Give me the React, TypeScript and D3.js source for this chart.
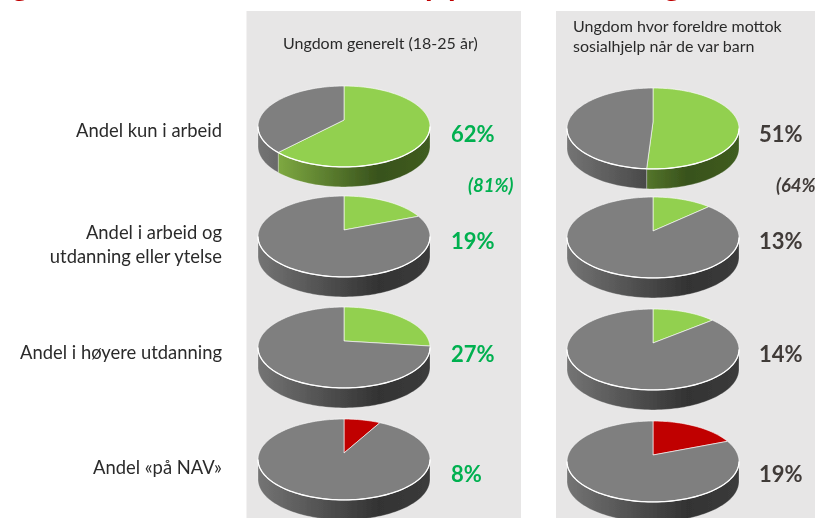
import React from "react";
import * as d3 from "d3";

const width = 815;
const height = 518;

// values
const rowLabels = [
  ["Andel kun i arbeid"],
  ["Andel i arbeid og", "utdanning eller ytelse"],
  ["Andel i høyere utdanning"],
  ["Andel «på NAV»"],
];
const generalValues = [62, 19, 27, 8];
const welfareValues = [51, 13, 14, 19];
const generalHeader = ["Ungdom generelt (18-25 år)"];
const welfareHeader = ["Ungdom hvor foreldre mottok", "sosialhjelp når de var barn"];
const generalSum = "(81%)";
const welfareSum = "(64%)";
const titleFragments = ["g", "p", "p", "g"];

// layout
const labelRight = 222;
const labelBaselines = [[137], [239, 263], [359], [474]];
const titleX = [12, 425, 448, 664];
const pieTopsLeft = [86, 196, 307, 419];
const pieTopsRight = [88, 197, 309, 421];
const valueBaselines = [142, 249, 362, 482];

// the slides' fake 3D pie is a perspective view of a disc
const persp = 0.16;
const rx = 84.9;
const ry = 39.4;
const apexOffset = 34;
const depth = 20;
const seam = Math.acos(-persp);

const GRAY = "#7f7f7f";
const GREEN = "#92d050";
const RED = "#c00000";
const TEXT = "#2b2b2b";

const pie = d3
  .pie<number>()
  .sort(null)
  .value((d) => d);

function rim(a: number): [number, number] {
  const u = Math.sin(a);
  const v = Math.cos(a);
  const w = 1 + persp * v;
  return [(rx * u) / w, (-ry * v) / w];
}

const line = d3.line();

function arcPoints(a0: number, a1: number): [number, number][] {
  const n = Math.max(2, Math.ceil((a1 - a0) * 30));
  return d3.range(n + 1).map((i) => rim(a0 + ((a1 - a0) * i) / n));
}

const Pie3D = ({ cx, top, value, color, id }: { cx: number; top: number; value: number; color: string; id: string }) => {
  const cy = top + apexOffset;
  const slices = pie([value, 100 - value]);
  const fills = [color, GRAY];
  const sideFills = [color === RED ? `url(#${id}-r)` : `url(#${id}-g)`, `url(#${id}-k)`];

  return (
    <g transform={`translate(${cx},${cy})`}>
      <defs>
        <linearGradient id={`${id}-k`} gradientUnits="userSpaceOnUse" x1={-86} x2={86} y1={0} y2={0}>
          <stop offset="0" stopColor="#747474" />
          <stop offset="0.7" stopColor="#333333" />
          <stop offset="1" stopColor="#3b3b3b" />
        </linearGradient>
        <linearGradient id={`${id}-g`} gradientUnits="userSpaceOnUse" x1={-86} x2={86} y1={0} y2={0}>
          <stop offset="0" stopColor="#8cba48" />
          <stop offset="0.7" stopColor="#38521c" />
          <stop offset="1" stopColor="#3f5c20" />
        </linearGradient>
        <linearGradient id={`${id}-r`} gradientUnits="userSpaceOnUse" x1={-86} x2={86} y1={0} y2={0}>
          <stop offset="0" stopColor="#a00000" />
          <stop offset="1" stopColor="#500000" />
        </linearGradient>
      </defs>
      {slices.map((s, i) => {
        const a0 = Math.max(s.startAngle, seam);
        const a1 = Math.min(s.endAngle, 2 * Math.PI - seam);
        if (a1 <= a0) return null;
        const edge = arcPoints(a0, a1);
        const lower = edge.map(([x, y]) => [x, y + depth] as [number, number]).reverse();
        return (
          <path
            key={`side-${i}`}
            d={`${line([...edge, ...lower])}Z`}
            fill={sideFills[i]}
            stroke="#fff"
            strokeOpacity={0.35}
            strokeWidth={0.8}
          />
        );
      })}
      {slices.map((s, i) => (
        <path
          key={`top-${i}`}
          d={`${line([[0, 0], ...arcPoints(s.startAngle, s.endAngle)])}Z`}
          fill={fills[i]}
          stroke="#fff"
          strokeOpacity={0.6}
          strokeWidth={1}
          strokeLinejoin="round"
        />
      ))}
      {/* bright front edge of the disc */}
      <path d={line(arcPoints(seam, 2 * Math.PI - seam)) as string} fill="none" stroke="#fff" strokeWidth={1.3} />
    </g>
  );
};

const App = () => {
  const font = "Lato, 'Open Sans', sans-serif";
  return (
    <svg
      width={width}
      height={height}
      viewBox={`0 0 ${width} ${height}`}
      style={{ position: "absolute", left: 0, top: 0, background: "#fff", fontFamily: font }}
    >
      <defs>
        <filter id="soft" x="0" y="-0.02" width="1" height="1.04">
          <feGaussianBlur stdDeviation="0.35" />
        </filter>
      </defs>
      <g filter="url(#soft)">
        <rect x={246.5} y={11} width={274.5} height={height - 11} fill="#e7e6e6" />
        <rect x={556} y={11} width={width - 556} height={height - 11} fill="#e7e6e6" />

        {titleFragments.map((t, i) => (
          <text key={i} x={titleX[i]} y={-4} fontSize={31} fontWeight={700} fill="#c00000">
            {t}
          </text>
        ))}

        {generalHeader.map((t) => (
          <text key={t} x={283} y={49} fontSize={16} fill={TEXT}>
            {t}
          </text>
        ))}
        {welfareHeader.map((t, i) => (
          <text key={t} x={573} y={32 + i * 20} fontSize={16} fill={TEXT}>
            {t}
          </text>
        ))}

        {rowLabels.map((lines, r) =>
          lines.map((t, i) => (
            <text key={t} x={labelRight} y={labelBaselines[r][i]} textAnchor="end" fontSize={18.4} fill={TEXT}>
              {t}
            </text>
          ))
        )}

        {generalValues.map((v, r) => (
          <g key={r}>
            <Pie3D cx={344} top={pieTopsLeft[r]} value={v} color={r === 3 ? RED : GREEN} id={`l${r}`} />
            <text x={451} y={valueBaselines[r]} fontSize={22} fontWeight={700} fill="#00b050">
              {v}%
            </text>
          </g>
        ))}
        {welfareValues.map((v, r) => (
          <g key={r}>
            <Pie3D cx={653} top={pieTopsRight[r]} value={v} color={r === 3 ? RED : GREEN} id={`r${r}`} />
            <text x={759} y={valueBaselines[r]} fontSize={22} fontWeight={700} fill="#403a38">
              {v}%
            </text>
          </g>
        ))}

        <text x={468} y={192} fontSize={18.5} fontWeight={700} fontStyle="italic" fill="#00b050">
          {generalSum}
        </text>
        <text x={776} y={192} fontSize={18.5} fontWeight={700} fontStyle="italic" fill="#403a38">
          {welfareSum}
        </text>
      </g>
    </svg>
  );
};

export default App;
